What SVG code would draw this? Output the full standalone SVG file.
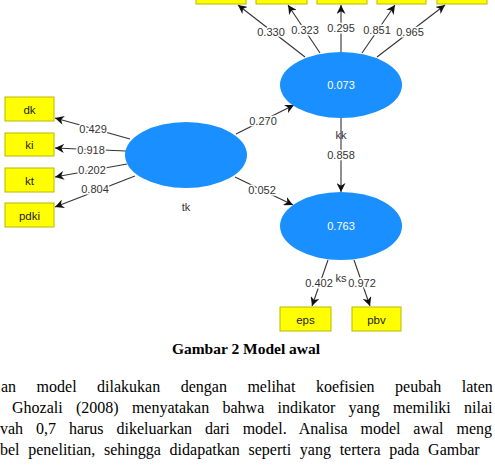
<svg xmlns="http://www.w3.org/2000/svg" width="495" height="468" viewBox="0 0 495 468">
<defs>
<marker id="ah" viewBox="0 0 10 10" refX="10" refY="5" markerWidth="9" markerHeight="9" markerUnits="userSpaceOnUse" orient="auto">
<path d="M0,0 L10,5 L0,10 L3,5 Z" fill="#111"/>
</marker>
<style>
.box{fill:#ffff00;stroke:#b8b800;stroke-width:1}
.lat{fill:#1a8fff}
.bl{font-family:"Liberation Sans",Arial,sans-serif;font-size:11.5px;fill:#222;text-anchor:middle}
.cf{font-family:"Liberation Sans",Arial,sans-serif;font-size:11px;fill:#333;text-anchor:middle;paint-order:stroke;stroke:#fff;stroke-width:3px}
.in{font-family:"Liberation Sans",Arial,sans-serif;font-size:11px;fill:#fff;text-anchor:middle}
.nm{font-family:"Liberation Sans",Arial,sans-serif;font-size:11px;fill:#333;text-anchor:middle}
.ln{stroke:#333;stroke-width:1.1;fill:none;marker-end:url(#ah)}
.cap{font-family:"Liberation Serif","Times New Roman",serif;font-size:15.5px;font-weight:bold;fill:#000;text-anchor:middle}
.p{font-family:"Liberation Serif","Times New Roman",serif;font-size:16px;fill:#000}
</style>
</defs>
<rect width="495" height="468" fill="#fff"/>

<g id="connectors">
<line class="ln" x1="305" y1="57" x2="238" y2="5"/>
<line class="ln" x1="320" y1="53" x2="288" y2="5"/>
<line class="ln" x1="341" y1="52" x2="341" y2="5"/>
<line class="ln" x1="362" y1="53" x2="395" y2="5"/>
<line class="ln" x1="377" y1="57" x2="445" y2="5"/>
<line class="ln" x1="130" y1="139" x2="55" y2="118"/>
<line class="ln" x1="126" y1="151" x2="55" y2="148"/>
<line class="ln" x1="127" y1="164" x2="55" y2="177"/>
<line class="ln" x1="135" y1="176" x2="55" y2="207"/>
<line class="ln" x1="236" y1="134" x2="294" y2="105"/>
<line class="ln" x1="235" y1="177" x2="293" y2="205"/>
<line class="ln" x1="341" y1="118" x2="341" y2="192"/>
<line class="ln" x1="328" y1="260" x2="312" y2="306"/>
<line class="ln" x1="354" y1="260" x2="370" y2="306"/>
<text class="cf" x="271" y="36">0.330</text>
<text class="cf" x="305" y="34">0.323</text>
<text class="cf" x="341" y="32">0.295</text>
<text class="cf" x="377" y="34">0.851</text>
<text class="cf" x="410" y="36">0.965</text>
<text class="cf" x="93" y="133">0.429</text>
<text class="cf" x="91" y="154">0.918</text>
<text class="cf" x="92" y="174">0.202</text>
<text class="cf" x="95" y="193">0.804</text>
<text class="cf" x="263" y="125">0.270</text>
<text class="cf" x="262" y="194">0.052</text>
<text class="cf" x="341" y="159">0.858</text>
<text class="cf" x="319" y="287">0.402</text>
<text class="cf" x="362" y="287">0.972</text>
</g>

<g id="top1"><rect class="box" x="196" y="-20" width="50" height="24"/></g>
<g id="top2"><rect class="box" x="256" y="-20" width="51" height="24"/></g>
<g id="top3"><rect class="box" x="317" y="-20" width="50" height="24"/></g>
<g id="top4"><rect class="box" x="377" y="-20" width="49" height="24"/></g>
<g id="top5"><rect class="box" x="437" y="-20" width="50" height="24"/></g>

<g id="dk"><rect class="box" x="5" y="97" width="49" height="24"/><text class="bl" x="29.5" y="113.5">dk</text></g>
<g id="ki"><rect class="box" x="5" y="133" width="49" height="23"/><text class="bl" x="29.5" y="149">ki</text></g>
<g id="kt"><rect class="box" x="5" y="168" width="49" height="24"/><text class="bl" x="29.5" y="184.5">kt</text></g>
<g id="pdki"><rect class="box" x="5" y="203" width="49" height="24"/><text class="bl" x="29.5" y="219.5">pdki</text></g>
<g id="eps"><rect class="box" x="280" y="307" width="51" height="24"/><text class="bl" x="305.5" y="323.5">eps</text></g>
<g id="pbv"><rect class="box" x="352" y="307" width="49" height="24"/><text class="bl" x="376.5" y="323.5">pbv</text></g>

<g id="kk"><ellipse class="lat" cx="341" cy="85" rx="61" ry="33"/><text class="in" x="341" y="89">0.073</text><text class="nm" x="341" y="139">kk</text></g>
<g id="tk"><ellipse class="lat" cx="186" cy="155" rx="61" ry="33"/><text class="nm" x="186" y="211">tk</text></g>
<g id="ks"><ellipse class="lat" cx="341" cy="226" rx="61" ry="34"/><text class="in" x="341" y="230">0.763</text><text class="nm" x="341" y="282">ks</text></g>

<text class="cap" x="246" y="354">Gambar 2 Model awal</text>
<text class="p" x="1" y="392" style="word-spacing:16.5px">an model dilakukan dengan melihat koefisien peubah laten</text>
<text class="p" x="12" y="413" style="word-spacing:9.3px">Ghozali (2008) menyatakan bahwa indikator yang memiliki nilai</text>
<text class="p" x="0" y="434" style="word-spacing:8.9px">vah 0,7 harus dikeluarkan dari model. Analisa model awal meng</text>
<text class="p" x="0" y="455" style="word-spacing:4.7px">bel penelitian, sehingga didapatkan seperti yang tertera pada Gambar</text>
</svg>
